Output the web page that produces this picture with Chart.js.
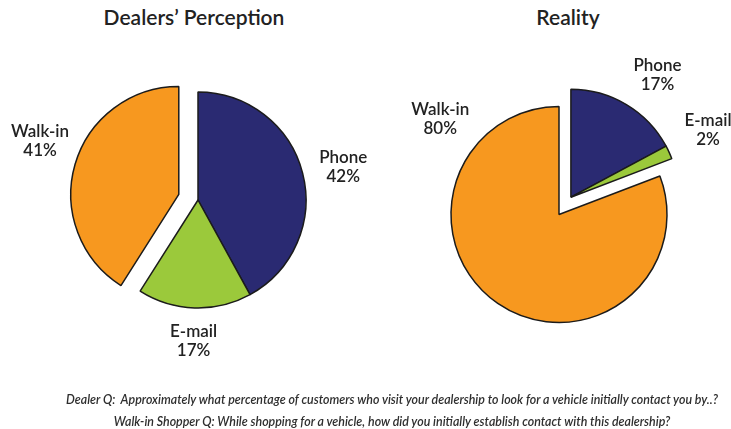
<!DOCTYPE html>
<html>
<head>
<meta charset="utf-8">
<script src="https://cdn.jsdelivr.net/npm/chart.js@4.4.0/dist/chart.umd.min.js"></script>
<style>
  body { margin: 0; width: 731px; height: 429px; background: #fff; position: relative; overflow: hidden; font-family: Lato, sans-serif; }
  .title { position: absolute; top: 4px; font-size: 21px; font-weight: 600; color: #222; transform: translateX(-50%); white-space: nowrap; }
  .pie { position: absolute; }
  .note { position: absolute; left: 0; width: 784px; text-align: center; font-style: italic; font-size: 12.4px; font-weight: 600; color: #2e2e2e; white-space: nowrap; }
</style>
</head>
<body>
<div class="title" style="left:194px">Dealers’ Perception</div>
<div class="title" style="left:568px">Reality</div>
<div class="pie" style="left:0;top:0;width:396px;height:400px"><canvas id="perceptionChart"></canvas></div>
<div class="pie" style="left:387px;top:0;width:344px;height:429px"><canvas id="realityChart"></canvas></div>
<div class="note" style="top:392px">Dealer Q:&nbsp; Approximately what percentage of customers who visit your dealership to look for a vehicle initially contact you by..?</div>
<div class="note" style="top:414px">Walk-in Shopper Q: While shopping for a vehicle, how did you initially establish contact with this dealership?</div>
<script>
const categories = ['Phone', 'E-mail', 'Walk-in'];
const perceptionValues = [42, 17, 41];
const realityValues = [17, 2, 80];

const sliceColors = ['#2a2a72', '#9bc93b', '#f7981f'];

// pulls a group of neighbouring slices away from the centre as one block
const explodePlugin = {
    id: 'explode',
    afterDatasetsUpdate(chart, args, opts) {
        const arcs = chart.getDatasetMeta(0).data;
        const group = opts.indices || [];
        if (!group.length) return;
        const start = Math.min(...group.map(i => arcs[i].startAngle));
        const end = Math.max(...group.map(i => arcs[i].endAngle));
        const mid = (start + end) / 2;
        group.forEach(i => {
            arcs[i].x += Math.cos(mid) * opts.distance;
            arcs[i].y += Math.sin(mid) * opts.distance;
        });
    }
};

// name + percentage placed outside each slice
const sliceLabels = {
    id: 'sliceLabels',
    afterDatasetsDraw(chart, args, opts) {
        const ctx = chart.ctx;
        const meta = chart.getDatasetMeta(0);
        const values = chart.data.datasets[0].data;
        ctx.save();
        ctx.fillStyle = '#222';
        ctx.font = '600 17px Lato';
        ctx.textAlign = 'center';
        ctx.textBaseline = 'middle';
        meta.data.forEach((arc, i) => {
            const a = arc.startAngle + (arc.endAngle - arc.startAngle) * opts.along[i];
            const x = arc.x + Math.cos(a) * opts.dist[i];
            const y = arc.y + Math.sin(a) * opts.dist[i];
            ctx.fillText(chart.data.labels[i], x, y - 9);
            ctx.fillText(values[i] + '%', x, y + 10);
        });
        ctx.restore();
    }
};

function createPie(id, values, explode, labelOpts) {
    const ctx = document.getElementById(id).getContext('2d');
    new Chart(ctx, {
        type: 'pie',
        data: {
            labels: categories,
            datasets: [{
                data: values,
                backgroundColor: sliceColors,
                borderColor: '#1b1b1b',
                borderWidth: 1.5
            }]
        },
        options: {
            responsive: true,
            maintainAspectRatio: false,
            animation: false,
            events: [],
            radius: 108,
            plugins: {
                legend: { display: false },
                tooltip: { enabled: false },
                explode: explode,
                sliceLabels: labelOpts
            }
        },
        plugins: [explodePlugin, sliceLabels]
    });
}

createPie('perceptionChart', perceptionValues,
    { indices: [2], distance: 20 },
    { along: [0.51, 0.5, 0.535], dist: [149, 141, 149] });

createPie('realityChart', realityValues,
    { indices: [0, 1], distance: 21 },
    { along: [0.57, 0.25, 0.825], dist: [150, 153, 153] });
</script>
</body>
</html>
